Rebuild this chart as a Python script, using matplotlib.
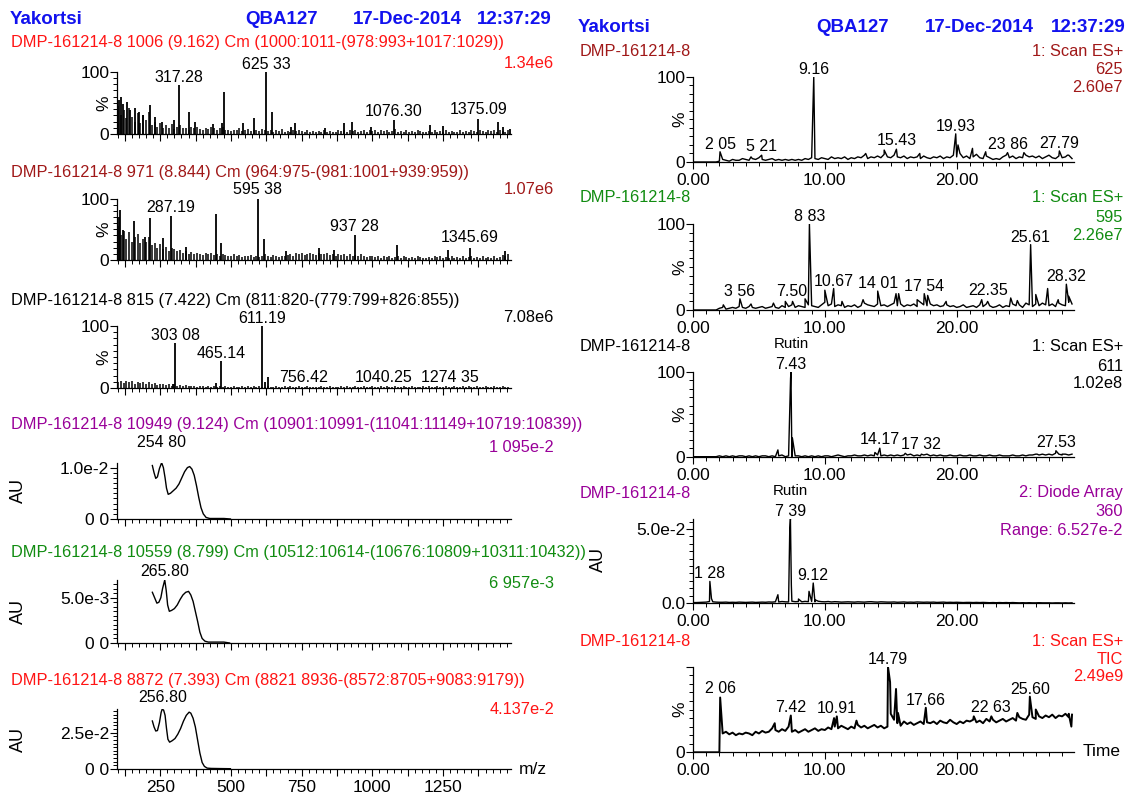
import numpy as np
import matplotlib
matplotlib.use("Agg")
import matplotlib.pyplot as plt
from matplotlib.ticker import MultipleLocator, FixedLocator, FuncFormatter

plt.rcParams['font.family'] = ['Liberation Sans', 'DejaVu Sans']

# ---------------- data: left column (spectra) ----------------
# MS spectra, noise sampled every 10 m/z from 100
ms_noise_mz = np.arange(100, 1490, 10)

l1_noise = [45, 30, 38, 25, 42, 28, 20, 33, 18, 30,
            22, 35, 15, 20, 12, 18, 10, 14, 9, 16,
            8, 12, 14, 9, 10, 7, 11, 9, 12, 8,
            7, 10, 8, 12, 9, 6, 10, 11, 7, 6,
            5, 7, 6, 9, 5, 6, 8, 5, 7, 6,
            5, 8, 6, 5, 7, 4, 6, 5, 8, 4,
            5, 4, 6, 5, 7, 5, 4, 6, 3, 5,
            4, 5, 3, 6, 4, 5, 3, 4, 6, 5,
            6, 4, 7, 5, 6, 4, 5, 7, 4, 6,
            5, 6, 4, 7, 5, 6, 4, 5, 8, 4,
            5, 4, 6, 3, 5, 4, 6, 5, 3, 4,
            5, 3, 6, 4, 5, 3, 6, 4, 5, 3,
            4, 6, 3, 5, 4, 7, 5, 4, 6, 5,
            4, 6, 5, 7, 4, 6, 5, 3, 6]
l1_mz = [103, 112, 118, 132, 144, 159, 175, 190, 215, 232, 256, 300, 317.28, 353, 374,
         437, 468, 477, 542, 582, 625.33, 645, 712, 726, 833, 900, 928, 996, 1076.30,
         1205, 1251, 1375.09, 1445, 1460, 1488]
l1_int = [55, 60, 48, 51, 38, 41, 35, 30, 47, 28, 20, 23, 78, 35, 19,
          16, 18, 67, 18, 26, 100, 36, 12, 18, 9, 17, 20, 12, 22,
          14, 13, 24, 20, 11, 8]
l1_labels = [("317.28", 317.28, 78), ("625 33", 625.33, 100),
             ("1076.30", 1076.30, 24), ("1375.09", 1375.09, 27)]

l2_noise = [55, 40, 48, 35, 45, 30, 38, 42, 28, 35,
            30, 38, 25, 28, 20, 26, 18, 22, 15, 20,
            18, 14, 16, 12, 15, 10, 13, 9, 12, 10,
            8, 11, 9, 12, 8, 10, 7, 9, 8, 6,
            7, 9, 6, 8, 5, 7, 6, 8, 5, 6,
            5, 7, 9, 6, 5, 8, 6, 5, 7, 6,
            8, 10, 7, 11, 9, 12, 8, 10, 12, 9,
            8, 12, 10, 9, 11, 8, 10, 7, 9, 8,
            10, 7, 9, 6, 8, 7, 9, 6, 5, 7,
            6, 5, 7, 4, 6, 5, 7, 4, 5, 6,
            4, 6, 5, 3, 5, 4, 6, 5, 3, 4,
            5, 4, 7, 5, 6, 4, 5, 3, 6, 4,
            5, 3, 6, 4, 5, 7, 4, 5, 3, 6,
            4, 5, 3, 6, 4, 5, 8, 6, 9]
l2_mz = [104, 107, 119, 158, 196, 215, 259, 287.19, 341, 448, 466, 595.38, 616, 694,
         812, 865, 937.28, 1086, 1268, 1345.69, 1470]
l2_int = [70, 82, 49, 64, 38, 68, 36, 72, 22, 75, 28, 100, 34, 14,
          19, 17, 41, 25, 16, 19, 14]
l2_labels = [("287.19", 287.19, 74), ("595 38", 595.38, 102),
             ("937 28", 937.28, 43), ("1345.69", 1345.69, 24)]

l3_noise = [10, 12, 8, 11, 9, 12, 7, 10, 8, 9,
            7, 9, 6, 8, 5, 7, 6, 5, 7, 4,
            6, 4, 5, 3, 5, 4, 3, 4, 2, 3,
            3, 2, 3, 2, 4, 2, 3, 2, 3, 2,
            2, 3, 2, 2, 3, 2, 4, 2, 3, 2,
            3, 2, 2, 3, 2, 2, 3, 2, 2, 3,
            2, 3, 2, 2, 3, 2, 2, 3, 2, 2,
            2, 2, 3, 2, 2, 3, 2, 2, 2, 3,
            2, 3, 2, 2, 3, 2, 2, 3, 2, 2,
            3, 2, 2, 3, 2, 3, 2, 2, 3, 2,
            2, 3, 2, 2, 3, 2, 2, 2, 3, 2,
            3, 2, 2, 3, 2, 2, 3, 2, 2, 3,
            2, 2, 3, 2, 3, 2, 2, 3, 2, 2,
            3, 2, 2, 3, 2, 2, 3, 2, 2]
l3_mz = [296, 303.08, 448, 465.14, 611.19, 620, 631]
l3_int = [6, 72, 8, 44, 100, 10, 18]
l3_labels = [("303 08", 303.08, 72), ("465.14", 465.14, 44), ("611.19", 611.19, 100),
             ("756.42", 756.42, 5), ("1040.25", 1040.25, 5), ("1274 35", 1274.35, 5)]

# UV spectra (nm, AU)
l4_nm = [222, 228, 234, 240, 247, 254.8, 261, 267, 272, 278, 286, 296, 306, 316, 326,
         336, 346, 354, 362, 370, 378, 386, 394, 402, 412, 425, 450, 475, 498]
l4_au = [0.0104, 0.0090, 0.0079, 0.0082, 0.0098, 0.01095, 0.0100, 0.0080, 0.0060, 0.0048,
         0.0050, 0.0055, 0.0060, 0.0068, 0.0080, 0.0092, 0.0100, 0.0102, 0.0097, 0.0085,
         0.0065, 0.0042, 0.0022, 0.0010, 0.0003, 0.0001, 0.0001, 0.0001, 0.0000]
l4_labels = [("254 80", 254.8, 0.0134)]

l5_nm = [222, 230, 238, 245, 252, 258, 265.8, 271, 276, 282, 290, 300, 310, 320, 330,
         340, 350, 358, 366, 374, 382, 390, 398, 408, 420, 450, 475, 495]
l5_au = [0.0056, 0.0050, 0.0044, 0.0045, 0.0050, 0.0060, 0.006957, 0.0058, 0.0042, 0.0035,
         0.0036, 0.0038, 0.0042, 0.0048, 0.0053, 0.0056, 0.0057, 0.0053, 0.0046, 0.0035,
         0.0024, 0.0012, 0.0005, 0.0002, 0.0001, 0.0001, 0.0001, 0.0000]
l5_labels = [("265.80", 265.8, 0.00705)]

l6_nm = [222, 228, 234, 240, 247, 253, 257, 262, 267, 272, 277, 283, 292, 302, 312,
         322, 332, 342, 352, 358, 366, 374, 382, 390, 398, 406, 416, 430, 460, 498]
l6_au = [0.0331, 0.0290, 0.0262, 0.0265, 0.0320, 0.0390, 0.04137, 0.0405, 0.0370, 0.0280,
         0.0205, 0.0185, 0.0195, 0.0210, 0.0240, 0.0280, 0.0330, 0.0370, 0.0392, 0.0385,
         0.0350, 0.0290, 0.0200, 0.0110, 0.0045, 0.0018, 0.0006, 0.0004, 0.0003, 0.0002]
l6_labels = [("256.80", 259, 0.0440)]

# ---------------- data: right column (chromatograms) ----------------
chrom_t = np.arange(116) * 0.25   # 0.00 .. 28.75 min

r1_noise = [0, 0, 0, 0, 0, 0, 0, 0, 1, 3, 2, 1,
            3, 2, 2, 4, 3, 2, 4, 3, 5, 3, 2, 3,
            4, 2, 3, 2, 3, 2, 3, 2, 3, 2, 4, 3,
            5, 4, 3, 5, 4, 3, 6, 4, 5, 4, 6, 3,
            5, 4, 6, 5, 8, 4, 6, 5, 7, 5, 9, 6,
            5, 8, 6, 5, 7, 4, 6, 5, 6, 4, 7, 5,
            4, 6, 5, 7, 4, 6, 5, 8, 6, 10, 5, 7,
            4, 6, 9, 5, 4, 7, 5, 3, 4, 3, 6, 8,
            5, 7, 4, 6, 5, 8, 6, 7, 5, 7, 4, 6,
            8, 5, 4, 7, 5, 6, 8, 4]
r1_pt = [2.05, 4.4, 5.21, 9.16, 13.1, 14.5, 15.43, 17.2, 19.93, 20.1, 21.2, 22.2,
         23.86, 25.1, 27.79, 28.4]
r1_pv = [12, 6, 8, 100, 10, 14, 15, 10, 33, 20, 16, 12, 11, 11, 13, 8]
r1_labels = [("2 05", 2.05, 12), ("5 21", 5.21, 9), ("9.16", 9.16, 100), ("15.43", 15.43, 16),
             ("19.93", 19.93, 33), ("23 86", 23.86, 12), ("27.79", 27.79, 13)]

r2_noise = [0, 0, 0, 0, 0, 0, 0, 0, 2, 3, 1, 2,
            3, 2, 4, 3, 2, 4, 3, 2, 3, 4, 2, 3,
            4, 3, 2, 5, 3, 4, 6, 3, 5, 4, 3, 6,
            5, 4, 3, 6, 9, 5, 7, 4, 6, 5, 3, 5,
            4, 6, 3, 5, 8, 6, 5, 4, 7, 5, 6, 4,
            6, 8, 5, 7, 4, 6, 5, 7, 4, 9, 6, 5,
            7, 5, 6, 4, 5, 6, 4, 5, 3, 4, 6, 3,
            4, 5, 3, 6, 4, 7, 5, 3, 4, 6, 3, 5,
            4, 7, 5, 6, 3, 8, 6, 4, 7, 5, 8, 6,
            5, 7, 4, 8, 6, 5, 9, 7]
r2_pt = [2.3, 3.56, 4.4, 6.1, 7.0, 7.55, 8.5, 8.83, 10.0, 10.67, 11.3, 12.9, 14.01, 15.4,
         15.6, 17.0, 17.54, 17.8, 19.2, 21.9, 22.35, 24.1, 24.6, 25.61, 25.7, 26.0, 26.9,
         27.7, 28.32, 28.5]
r2_pv = [6, 13, 7, 8, 10, 10, 13, 100, 23, 25, 10, 12, 22, 19,
         19, 12, 19, 17, 10, 12, 10, 14, 11, 76, 29, 18, 25,
         12, 30, 16]
r2_labels = [("3 56", 3.56, 13), ("7.50", 7.50, 13), ("8 83", 8.83, 100), ("10.67", 10.67, 25),
             ("14 01", 14.01, 22), ("17 54", 17.54, 19), ("22.35", 22.35, 14),
             ("25.61", 25.61, 76), ("28.32", 28.32, 30)]

r3_noise = [0, 0, 0, 0, 0, 0, 0, 0, 1, 0, 1, 0,
            1, 0, 1, 1, 0, 1, 0, 1, 0, 1, 1, 0,
            1, 0, 1, 2, 0, 1, 0, 1, 1, 0, 1, 0,
            1, 0, 1, 0, 1, 1, 0, 1, 2, 1, 0, 1,
            1, 2, 1, 1, 2, 1, 2, 1, 2, 1, 2, 1,
            2, 1, 2, 1, 2, 2, 3, 1, 2, 1, 2, 3,
            1, 2, 1, 2, 1, 1, 2, 1, 1, 2, 1, 1,
            2, 1, 1, 2, 1, 1, 2, 1, 1, 2, 1, 1,
            1, 2, 1, 1, 2, 1, 2, 2, 3, 2, 3, 2,
            3, 2, 4, 3, 2, 3, 2, 3]
r3_pt = [6.44, 7.40, 7.43, 7.54, 13.8, 14.17, 16.1, 17.32, 26.1, 27.53, 28.0]
r3_pv = [8, 92, 100, 22, 5, 10, 4, 3, 3, 7, 3]
r3_labels = [("7.43", 7.43, 100), ("14.17", 14.17, 11), ("17 32", 17.32, 5),
             ("27.53", 27.53, 8)]

# diode array, in mAU
r4_noise = [0.3, 0.3, 0.4, 0.5, 0.6, 1.0, 0.8, 0.6, 0.5, 0.5, 0.6, 0.4,
            0.5, 0.4, 0.6, 0.5, 0.4, 0.5, 0.6, 0.4, 0.5, 0.6, 0.5, 0.7,
            0.6, 0.8, 0.7, 1.0, 0.8, 0.7, 1.2, 0.9, 1.0, 0.8, 1.1, 0.9,
            1.0, 0.8, 1.2, 0.9, 0.8, 1.0, 0.7, 0.9, 0.8, 0.6, 0.7, 0.8,
            0.7, 0.6, 0.8, 0.7, 0.6, 0.8, 0.9, 0.7, 0.6, 0.8, 0.7, 0.6,
            0.6, 0.7, 0.5, 0.6, 0.7, 0.5, 0.6, 0.5, 0.7, 0.6, 0.5, 0.6,
            0.5, 0.6, 0.4, 0.5, 0.6, 0.4, 0.5, 0.4, 0.5, 0.4, 0.3, 0.4,
            0.4, 0.3, 0.4, 0.3, 0.4, 0.3, 0.2, 0.3, 0.2, 0.3, 0.2, 0.3,
            0.2, 0.3, 0.2, 0.1, 0.2, 0.1, 0.2, 0.1, 0.1, 0.2, 0.1, 0.1,
            0.1, 0.0, 0.1, 0.1, 0.0, 0.1, 0.0, 0.1]
r4_pt = [1.28, 1.4, 6.44, 7.34, 7.39, 7.46, 8.0, 8.8, 9.12, 9.3]
r4_pv = [14.6, 3.0, 5.6, 50.0, 56.8, 12.0, 2.7, 7.9, 13.5, 2.0]
r4_labels = [("1 28", 1.28, 14.6), ("7 39", 7.39, 56.8), ("9.12", 9.12, 13.5)]

# TIC, %
r5_noise = [0, 0, 0, 0, 0, 0, 0, 0, 0, 22, 24, 21,
            23, 20, 22, 21, 23, 22, 20, 24, 22, 25, 23, 24,
            28, 26, 24, 27, 25, 30, 24, 26, 23, 25, 27, 24,
            26, 28, 25, 27, 26, 29, 27, 30, 28, 31, 29, 27,
            30, 28, 32, 29, 31, 28, 30, 32, 29, 31, 28, 30,
            45, 38, 34, 31, 36, 33, 35, 32, 34, 36, 33, 35,
            34, 36, 33, 37, 35, 34, 38, 35, 33, 36, 34, 37,
            36, 38, 35, 37, 34, 39, 36, 38, 35, 37, 39, 36,
            38, 40, 37, 41, 39, 38, 44, 41, 39, 42, 40, 43,
            41, 44, 40, 43, 42, 45, 41, 44]
r5_pt = [2.06, 6.2, 7.42, 10.7, 10.91, 12.4, 14.79, 14.95, 15.4, 15.55, 17.66, 21.3,
         22.63, 24.6, 25.55, 26.0, 28.5, 28.7]
r5_pv = [64, 34, 43, 40, 42, 37, 100, 82, 74, 46, 52, 42, 42, 46, 65, 50, 45, 30]
r5_labels = [("2 06", 2.06, 66), ("7.42", 7.42, 43), ("10.91", 10.91, 42), ("14.79", 14.79, 100),
             ("17.66", 17.66, 52), ("22 63", 22.63, 44), ("25.60", 25.60, 65)]

# ---------------- colours ----------------
RED = '#FF1414'
DARKRED = '#A01818'
PURPLE = '#990099'
GREEN = '#118C11'
BLUE = '#1212EE'

TITLE_FS = 11.8
TICK_FS = 12.5
PEAK_FS = 11.5

W, H = 1125, 796
fig = plt.figure(figsize=(W / 100, H / 100), dpi=100)


def axes_px(left, top, right, bottom):
    ax = fig.add_axes([left / W, 1 - bottom / H, (right - left) / W, (bottom - top) / H])
    ax.patch.set_alpha(0)
    ax.spines['top'].set_visible(False)
    ax.spines['right'].set_visible(False)
    ax.spines['left'].set_linewidth(0.9)
    ax.spines['bottom'].set_linewidth(0.9)
    ax.tick_params(which='major', direction='out', length=5, width=0.8, labelsize=TICK_FS, pad=1)
    ax.tick_params(which='minor', direction='out', length=3, width=0.7)
    ax.tick_params(axis='y', pad=0.5)
    return ax


def ftext(x, y, s, **kw):
    fig.text(x / W, 1 - y / H, s, va='center', **kw)


def peak_labels(ax, labels, scale=1.0):
    for s, x, y in labels:
        ax.text(x, y * scale, s, ha='center', va='bottom', fontsize=PEAK_FS, clip_on=False)


def left_x(ax, show):
    ax.set_xlim(97, 1490)
    ax.xaxis.set_major_locator(MultipleLocator(125))
    ax.xaxis.set_minor_locator(MultipleLocator(25))
    if show:
        ax.xaxis.set_major_formatter(FuncFormatter(lambda v, p: '%d' % v if v % 250 == 0 else ''))
        ax.tick_params(axis='x', pad=3)
    else:
        ax.set_xticklabels([])


def right_x(ax):
    ax.set_xlim(0, 28.9)
    ax.xaxis.set_major_locator(FixedLocator([0, 10, 20]))
    ax.xaxis.set_major_formatter(FuncFormatter(lambda v, p: '%.2f' % v))
    ax.xaxis.set_minor_locator(MultipleLocator(1))
    ax.tick_params(axis='x', pad=3)


def pct_y(ax, label100=True):
    ax.set_ylim(0, 100)
    ax.yaxis.set_major_locator(FixedLocator([0, 100]))
    ax.yaxis.set_major_formatter(FuncFormatter(
        lambda v, p: ('100' if label100 else '') if v == 100 else '0'))
    ax.yaxis.set_minor_locator(MultipleLocator(10))


# ---------------- headers ----------------
for x, s in [(10, "Yakortsi"), (245, "QBA127"), (353, "17-Dec-2014"), (477, "12:37:29")]:
    ftext(x, 20, s, color=BLUE, fontsize=13.5, fontweight='bold', ha='left')
for x, s in [(578, "Yakortsi"), (816, "QBA127"), (925, "17-Dec-2014"), (1051, "12:37:29")]:
    ftext(x, 28, s, color=BLUE, fontsize=13.5, fontweight='bold', ha='left')

# ---------------- left column ----------------
LX0, LX1 = 117, 511

ms_panels = [
    (71.7, 134, l1_noise, l1_mz, l1_int, l1_labels, RED,
     "DMP-161214-8 1006 (9.162) Cm (1000:1011-(978:993+1017:1029))", 43, "1.34e6", 63),
    (198.7, 260, l2_noise, l2_mz, l2_int, l2_labels, DARKRED,
     "DMP-161214-8 971 (8.844) Cm (964:975-(981:1001+939:959))", 172, "1.07e6", 190),
    (326, 388, l3_noise, l3_mz, l3_int, l3_labels, 'black',
     "DMP-161214-8 815 (7.422) Cm (811:820-(779:799+826:855))", 300.7, "7.08e6", 317),
]
for top, bot, noise, mz, inten, labels, col, title, ty, val, vy in ms_panels:
    ax = axes_px(LX0, top, LX1, bot)
    ax.vlines(ms_noise_mz, 0, noise, color='black', lw=1.1)
    ax.vlines(mz, 0, inten, color='black', lw=1.3)
    pct_y(ax)
    left_x(ax, False)
    peak_labels(ax, labels)
    ftext(11, ty, title, color=col, fontsize=TITLE_FS, ha='left')
    ftext(554, vy, val, color=col, fontsize=TITLE_FS, ha='right')
    ftext(104, (top + bot) / 2, "%", fontsize=12.5, rotation=90, ha='center')

uv_panels = [
    (462.7, 519, l4_nm, l4_au, l4_labels, 0.01095, 0.01, 0.001, "1.0e-2", PURPLE,
     "DMP-161214-8 10949 (9.124) Cm (10901:10991-(11041:11149+10719:10839))", 424,
     "1 095e-2", 447.7, False),
    (580, 643, l5_nm, l5_au, l5_labels, 0.006957, 0.005, 0.0005, "5.0e-3", GREEN,
     "DMP-161214-8 10559 (8.799) Cm (10512:10614-(10676:10809+10311:10432))", 553,
     "6 957e-3", 583, False),
    (709, 769, l6_nm, l6_au, l6_labels, 0.04137, 0.025, 0.0025, "2.5e-2", RED,
     "DMP-161214-8 8872 (7.393) Cm (8821 8936-(8572:8705+9083:9179))", 680.7,
     "4.137e-2", 710, True),
]
for top, bot, nm, au, labels, ymax, tick, minor, ticklab, col, title, ty, val, vy, show in uv_panels:
    ax = axes_px(LX0, top, LX1, bot)
    ax.plot(nm, au, color='black', lw=1.0)
    ax.set_ylim(0, ymax)
    ax.yaxis.set_major_locator(FixedLocator([0, tick]))
    ax.yaxis.set_major_formatter(FuncFormatter(lambda v, p, t=ticklab: t if v > 0 else '0 0'))
    ax.yaxis.set_minor_locator(MultipleLocator(minor))
    left_x(ax, show)
    peak_labels(ax, labels)
    ftext(11, ty, title, color=col, fontsize=TITLE_FS, ha='left')
    ftext(554, vy, val, color=col, fontsize=TITLE_FS, ha='right')
    ftext(18, (top + bot) / 2, "AU", fontsize=13, rotation=90, ha='center')

ftext(519, 770, "m/z", fontsize=12.5, ha='left')

# ---------------- right column ----------------
RX0, RX1 = 693, 1074

chrom_panels = [
    (76.7, 162, r1_noise, r1_pt, r1_pv, r1_labels, DARKRED, ["1: Scan ES+", "625", "2.60e7"],
     [51.7, 69, 87], 51.7, 1.0),
    (224, 310, r2_noise, r2_pt, r2_pv, r2_labels, GREEN, ["1: Scan ES+", "595", "2.26e7"],
     [198, 217, 236], 198, 1.0),
    (371.7, 456.7, r3_noise, r3_pt, r3_pv, r3_labels, 'black', ["1: Scan ES+", "611", "1.02e8"],
     [346, 366.7, 383], 346, 1.0),
    (666.7, 752.3, r5_noise, r5_pt, r5_pv, r5_labels, RED, ["1: Scan ES+", "TIC", "2.49e9"],
     [641, 659, 676.7], 641, 1.4),
]
for i, (top, bot, noise, pt, pv, labels, col, rlab, rys, ty, lw) in enumerate(chrom_panels):
    ax = axes_px(RX0, top, RX1, bot)
    t = np.concatenate([chrom_t, pt])
    v = np.concatenate([noise, pv])
    order = np.argsort(t, kind='stable')
    ax.plot(t[order], v[order], color='black', lw=lw)
    pct_y(ax, label100=(i < 3))
    right_x(ax)
    peak_labels(ax, labels)
    ftext(580, ty, "DMP-161214-8", color=col, fontsize=TITLE_FS, ha='left')
    for s, yy in zip(rlab, rys):
        ftext(1123, yy, s, color=col, fontsize=TITLE_FS, ha='right')
    ftext(680, (top + bot) / 2, "%", fontsize=12.5, rotation=90, ha='center')
    if i == 2:
        ax.annotate("Rutin", (7.43, 100), xytext=(0, 21), textcoords='offset pixels',
                    ha='center', va='bottom', fontsize=10.8, annotation_clip=False)
    if i == 3:
        ftext(1083, 752, "Time", fontsize=12.5, ha='left')

# diode array panel
top, bot = 519, 603
ax = axes_px(RX0, top, RX1, bot)
t = np.concatenate([chrom_t, r4_pt])
v = np.concatenate([np.array(r4_noise), np.array(r4_pv)]) / 1000.0
order = np.argsort(t, kind='stable')
ax.plot(t[order], v[order], color='black', lw=1.0)
ax.set_ylim(0, 0.0568)
ax.yaxis.set_major_locator(FixedLocator([0, 0.05]))
ax.yaxis.set_major_formatter(FuncFormatter(lambda v, p: '5.0e-2' if v > 0 else '0.0'))
ax.yaxis.set_minor_locator(MultipleLocator(0.005))
right_x(ax)
peak_labels(ax, r4_labels, scale=1 / 1000.0)
ax.annotate("Rutin", (7.39, 0.0568), xytext=(0, 21), textcoords='offset pixels',
            ha='center', va='bottom', fontsize=10.8, annotation_clip=False)
ftext(580, 493, "DMP-161214-8", color=PURPLE, fontsize=TITLE_FS, ha='left')
for s, yy in zip(["2: Diode Array", "360", "Range: 6.527e-2"], [493, 511.7, 530]):
    ftext(1123, yy, s, color=PURPLE, fontsize=TITLE_FS, ha='right')
ftext(598, 560, "AU", fontsize=13, rotation=90, ha='center')

fig.savefig("out.png", dpi=100)
